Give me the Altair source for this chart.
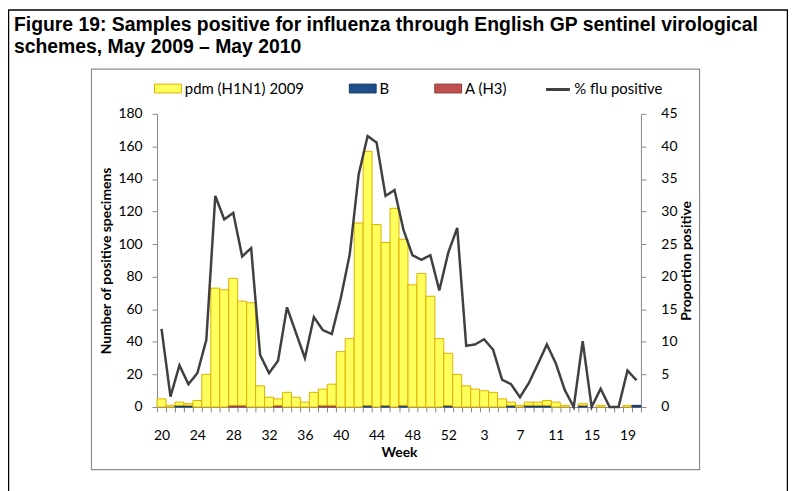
import altair as alt
import pandas as pd

weeks = [str(w) for w in list(range(20, 54)) + list(range(1, 21))]

pdm = [5, 1, 2, 1, 4, 20, 73, 72, 78, 64,
       64, 13, 6, 4, 9, 6, 3, 9, 10, 13,
       34, 42, 113, 156, 112, 100, 122, 102, 75, 82,
       68, 42, 32, 20, 13, 11, 10, 9, 5, 2,
       1, 2, 2, 3, 3, 1, 0, 1, 0, 1,
       0, 0, 1, 0]
b_vals = [0, 0, 1, 1, 0, 0, 0, 0, 0, 0,
          0, 0, 0, 0, 0, 0, 0, 0, 0, 0,
          0, 0, 0, 1, 0, 1, 0, 1, 0, 0,
          0, 0, 1, 0, 0, 0, 0, 0, 0, 1,
          0, 1, 1, 1, 0, 0, 0, 1, 0, 0,
          0, 0, 0, 1]
h3 = [0, 0, 0, 0, 0, 0, 0, 0, 1, 1,
      0, 0, 0, 1, 0, 0, 0, 0, 1, 1,
      0, 0, 0, 0, 0, 0, 0, 0, 0, 0,
      0, 0, 0, 0, 0, 0, 0, 0, 0, 0,
      0, 0, 0, 0, 0, 0, 0, 0, 0, 0,
      0, 0, 0, 0]
pct = [12.0, 1.6, 6.4, 3.5, 5.2, 10.3, 32.4, 28.8, 29.8, 23.1,
       24.4, 8.0, 5.2, 7.1, 15.3, 11.4, 7.5, 13.8, 11.8, 11.2,
       16.7, 23.4, 35.7, 41.6, 40.6, 32.4, 33.3, 27.2, 23.3, 22.6,
       23.3, 17.9, 23.7, 27.5, 9.4, 9.6, 10.4, 8.8, 4.2, 3.5,
       1.5, 3.7, 6.6, 9.6, 6.7, 2.6, 0.0, 10.1, 0.0, 2.8,
       0.0, 0.0, 5.6, 4.1]

bar_series = ["pdm (H1N1) 2009", "B", "A (H3)"]
fill_cols = ["#FFFF5C", "#1F4E8C", "#C0504D"]
stroke_cols = ["#E0B000", "#17375E", "#8C3836"]
line_name = "% flu positive"
line_col = "#404040"

rows = []
for i in range(len(weeks)):
    for name, arr, o in (("B", b_vals, 0), ("A (H3)", h3, 1), ("pdm (H1N1) 2009", pdm, 2)):
        if arr[i] > 0:
            rows.append({"idx": i, "series": name, "count": arr[i], "ord": o})
bars_df = pd.DataFrame(rows)
line_df = pd.DataFrame({"idx": list(range(len(weeks))), "pct": pct, "series": line_name})

arr_js = "[" + ",".join("'%s'" % w for w in weeks) + "]"
label_expr = "datum.value % 4 === 0 ? " + arr_js + "[datum.value] : ''"

FONT = "Lato"

x_enc = alt.X(
    "idx:O",
    scale=alt.Scale(domain=list(range(len(weeks))), paddingInner=0, paddingOuter=0),
    axis=alt.Axis(
        title="Week", labelExpr=label_expr, labelAngle=0, labelOverlap=False,
        tickBand="extent", tickSize=5, labelPadding=17, titlePadding=3,
        domainColor="#868686", tickColor="#868686",
    ),
)

bar_legend = alt.Legend(
    title=None, orient="none", legendX=-3, legendY=-39.5,
    direction="horizontal", columns=3, columnPadding=43,
    symbolSize=729, symbolType="M-1,-0.33H1V0.33H-1Z", symbolStrokeWidth=1,
    labelFont=FONT, labelFontSize=15, labelColor="black", labelOffset=3,
    padding=0,
)
line_legend = alt.Legend(
    title=None, orient="none", legendX=390, legendY=-38,
    symbolSize=576, symbolType="stroke", symbolStrokeWidth=3, symbolStrokeColor=line_col,
    labelFont=FONT, labelFontSize=15, labelColor="black", labelOffset=3,
    padding=0,
)

bars = alt.Chart(bars_df).mark_bar(strokeWidth=1).encode(
    x=x_enc,
    y=alt.Y(
        "count:Q", stack="zero",
        scale=alt.Scale(domain=[0, 180], nice=False),
        axis=alt.Axis(
            title="Number of positive specimens", values=list(range(0, 181, 20)),
            grid=False, tickSize=5, labelPadding=10, titlePadding=4,
            domainColor="#868686", tickColor="#868686",
        ),
    ),
    color=alt.Color("series:N", scale=alt.Scale(domain=bar_series, range=fill_cols), legend=bar_legend),
    stroke=alt.Stroke("series:N", scale=alt.Scale(domain=bar_series, range=stroke_cols), legend=bar_legend),
    order=alt.Order("ord:Q"),
)

line = alt.Chart(line_df).mark_line(strokeWidth=2.5, color=line_col).encode(
    x=x_enc,
    y=alt.Y(
        "pct:Q",
        scale=alt.Scale(domain=[0, 45], nice=False),
        axis=alt.Axis(
            title="Proportion positive", orient="right", values=list(range(0, 46, 5)),
            grid=False, tickSize=5, labelPadding=15, titlePadding=3, titleAngle=270,
            titleBaseline="top",
            domainColor="#868686", tickColor="#868686",
        ),
    ),
    strokeDash=alt.StrokeDash("series:N", scale=alt.Scale(domain=[line_name], range=[[1, 0]]), legend=line_legend),
)

one = pd.DataFrame({"k": [1]})

gray_box = alt.Chart(one).mark_rect(fillOpacity=0, stroke="#8C8C8C", strokeWidth=1.2).encode(
    x=alt.value(-66), x2=alt.value(546), y=alt.value(-45), y2=alt.value(358)
)
black_box = alt.Chart(one).mark_rect(fillOpacity=0, stroke="black", strokeWidth=1.5).encode(
    x=alt.value(-149.5), x2=alt.value(634.5), y=alt.value(-104.5), y2=alt.value(400)
)

title1 = alt.Chart(one).mark_text(
    text="Figure 19: Samples positive for influenza through English GP sentinel virological",
    font="Liberation Sans", fontSize=19.5, fontWeight="bold", align="left", baseline="alphabetic", color="black",
).encode(x=alt.value(-144), y=alt.value(-83))
title2 = alt.Chart(one).mark_text(
    text="schemes, May 2009 \u2013 May 2010",
    font="Liberation Sans", fontSize=19.5, fontWeight="bold", align="left", baseline="alphabetic", color="black",
).encode(x=alt.value(-144), y=alt.value(-61))

chart = alt.layer(black_box, gray_box, title1, title2, bars, line).resolve_scale(
    y="independent"
).properties(
    width=487, height=295,
    padding={"left": 150, "top": 105, "right": 148, "bottom": 83},
    autosize=alt.AutoSizeParams(type="none"),
).configure_view(stroke=None).configure_axis(
    labelFont=FONT, labelFontSize=14, labelColor="black",
    titleFont=FONT, titleFontSize=14, titleFontWeight="bold", titleColor="black",
)

chart.save("out.html", embed_options={"renderer": "svg", "actions": False})
